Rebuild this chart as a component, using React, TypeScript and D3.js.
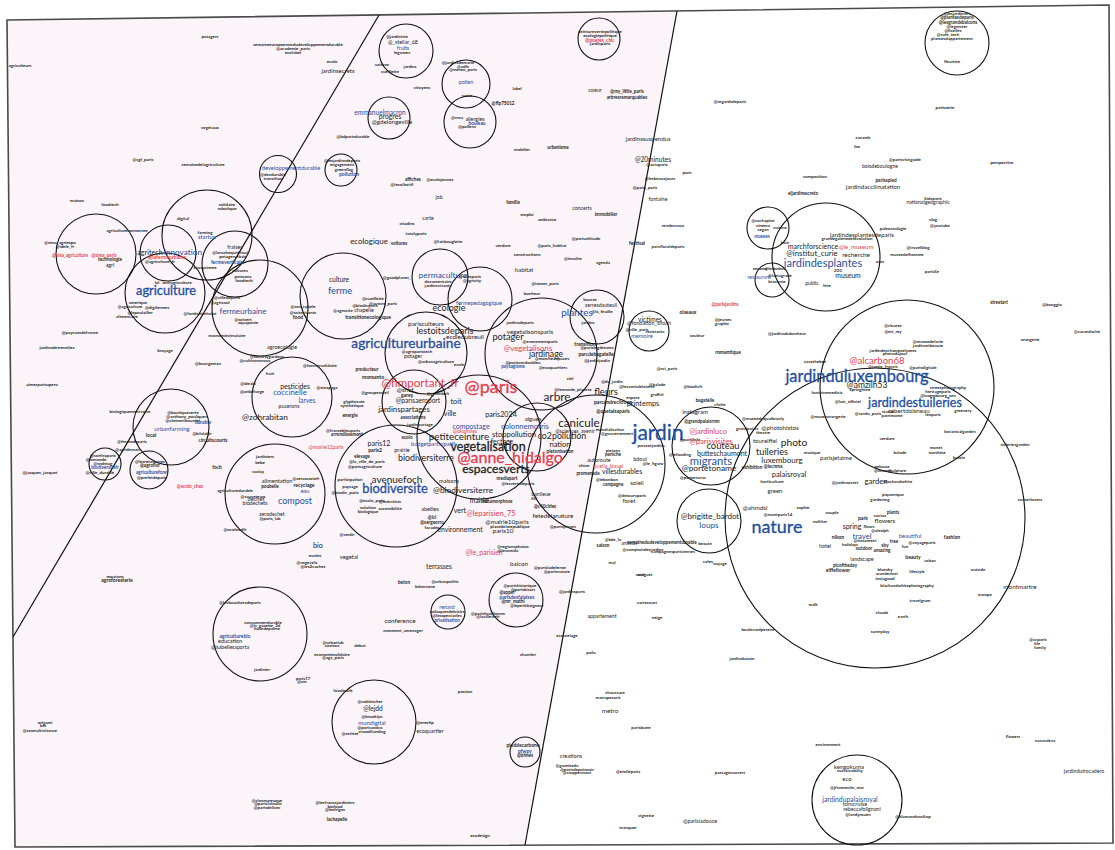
import React, { useEffect, useRef } from 'react';
import * as d3 from 'd3';

// map units: one unit = 10px of the page
type Label = [string, number, number, number, string];

const frameCorners: [number, number][] = [[0.7, 2.0], [110.9, 0.5], [111.3, 84.3], [1.5, 84.7]];

const dividers: [number, number, number, number][] = [
  [37.9, 1.5, 1.3, 63.7],
  [67.7, 1.1, 52.5, 84.5],
];

const circles: [number, number, number][] = [
  [27.8, 17.4, 1.85], [34.1, 17.0, 1.6], [20.7, 23.5, 4.5], [9.6, 25.4, 4.0], [16.8, 25.3, 2.8],
  [23.5, 26.4, 3.3], [16.5, 29.3, 4.0], [26.0, 30.8, 4.8], [34.3, 29.6, 4.3], [44.0, 27.7, 2.8],
  [48.0, 29.9, 3.2], [42.6, 35.3, 4.1], [41.4, 40.2, 3.2], [47.9, 43.7, 6.2], [54.1, 35.4, 5.6],
  [59.7, 31.7, 2.7], [64.9, 33.1, 2.0], [39.6, 48.6, 6.1], [53.7, 43.7, 3.4], [59.6, 46.4, 6.9],
  [71.1, 44.6, 3.9], [70.9, 52.1, 3.2], [87.5, 51.8, 15.0], [90.7, 38.7, 8.7], [82.6, 25.7, 5.4],
  [76.8, 22.8, 2.1], [77.2, 28.0, 1.7], [95.7, 4.3, 3.2], [85.7, 80.0, 4.5], [40.6, 5.1, 2.7],
  [46.6, 8.4, 2.4], [47.0, 12.2, 2.6], [38.9, 11.8, 2.1], [59.9, 3.9, 2.1], [17.1, 42.7, 3.8],
  [10.5, 46.4, 1.6], [14.9, 47.0, 1.9], [29.2, 39.7, 4.0], [27.5, 49.4, 5.0], [26.0, 63.4, 4.7],
  [37.4, 72.2, 4.2], [44.8, 61.2, 1.7], [51.6, 60.0, 2.7], [52.5, 75.2, 1.5],
];

// [word, x, y, weight, group]  group: k = term, b = hashtag, r = mention
const labelsWest: Label[] = [
  ['agriculteurs', 2.0, 6.6, 1.2, 'k'], ['potagers', 21.0, 3.7, 1.2, 'k'],
  ['semaineeuropeennedudeveloppementdurable', 29.8, 4.5, 1.2, 'k'], ['@academie_paris', 29.3, 4.9, 1.2, 'k'],
  ['ecolabel', 29.3, 5.3, 1.2, 'k'], ['ecolo', 33.2, 6.2, 1.2, 'k'], ['jardinsecrets', 33.8, 7.1, 2.0, 'k'],
  ['vegetaux', 21.0, 12.8, 1.2, 'k'], ['@sgf_paris', 14.3, 16.0, 1.2, 'k'],
  ['semainedelagriculture', 20.3, 16.5, 1.2, 'k'], ['@bdparisdurable', 35.3, 13.7, 1.2, 'k'],
  ['maison', 7.7, 20.1, 1.2, 'k'], ['foodtech', 11.0, 20.5, 1.2, 'k'],
  ['developpementdurable', 29.1, 16.9, 1.9, 'b'], ['@devdurable', 27.3, 17.5, 1.2, 'k'],
  ['transition', 27.3, 17.9, 1.2, 'k'], ['@lesjardinsdeparis', 34.2, 16.1, 1.2, 'k'],
  ['engagement', 34.2, 16.5, 1.2, 'k'], ['greenflag', 34.4, 17.0, 1.2, 'k'], ['pollution', 34.9, 17.5, 1.5, 'b'],
  ['@sima_agriexpo', 6.0, 24.3, 1.2, 'k'], ['@idele_fr', 6.5, 24.7, 1.2, 'k'],
  ['@visa_agriculture', 7.0, 25.6, 1.3, 'r'], ['@sima_paris', 10.4, 25.6, 1.3, 'r'],
  ['technologie', 11.0, 26.0, 1.3, 'k'], ['agri', 11.0, 26.6, 1.7, 'k'],
  ['agricultureconnectee', 12.7, 23.1, 1.2, 'k'], ['solidaire', 22.7, 20.5, 1.2, 'k'],
  ['robotique', 22.7, 20.9, 1.2, 'k'], ['digital', 18.3, 21.9, 1.2, 'k'], ['farming', 20.5, 23.3, 1.2, 'k'],
  ['startup', 20.7, 23.8, 1.9, 'b'], ['agritech', 15.0, 25.3, 2.6, 'k'], ['innovation', 18.3, 25.3, 3.1, 'b'],
  ['@lafermeurbaine', 16.7, 25.8, 1.5, 'r'], ['@agriculture_fr', 16.0, 26.2, 1.2, 'k'],
  ['fraises', 23.5, 24.8, 1.7, 'k'], ['@laruchequiditoui', 23.0, 25.3, 1.2, 'k'],
  ['potagerurbain', 23.3, 25.7, 1.2, 'k'], ['fermeverticale', 22.7, 26.3, 1.5, 'b'],
  ['ecosysteme', 20.5, 26.8, 1.2, 'k'], ['cultures', 24.0, 27.1, 1.2, 'k'], ['poissons', 24.3, 27.7, 1.2, 'k'],
  ['foodtech', 24.4, 28.1, 1.2, 'k'], ['lol', 15.7, 28.3, 1.2, 'k'], ['techagriculture', 17.7, 28.3, 1.2, 'k'],
  ['agriculture', 16.6, 29.2, 5.4, 'b'], ['amerique', 13.8, 30.3, 1.2, 'k'], ['@agriculture', 13.0, 30.7, 1.2, 'k'],
  ['@digifermes', 15.7, 30.8, 1.2, 'k'], ['@lepoulailler', 14.0, 31.3, 1.2, 'k'],
  ['alimentaire', 12.7, 31.7, 1.2, 'k'], ['@fondationhulot', 20.0, 31.4, 1.2, 'k'],
  ['@villedeparis', 22.7, 29.8, 1.2, 'k'], ['@agricool', 22.0, 30.3, 1.2, 'k'],
  ['fermeurbaine', 24.3, 31.2, 3.0, 'b'], ['@solvert', 24.3, 32.0, 1.2, 'k'], ['aquaponie', 24.8, 32.3, 1.2, 'k'],
  ['economiecirculaire', 22.7, 33.6, 1.2, 'k'], ['@paysansdefrance', 8.0, 33.3, 1.2, 'k'],
  ['jardinsdesrecoltes', 5.7, 34.8, 1.2, 'k'], ['broyage', 16.5, 35.1, 1.2, 'k'],
  ['agroecologie', 28.2, 34.8, 1.7, 'k'], ['ecologique', 36.9, 24.2, 2.95, 'k'], ['culture', 33.9, 28.0, 2.3, 'k'],
  ['ferme', 34.0, 29.2, 3.7, 'b'], ['@sea_cybele', 30.3, 30.7, 1.2, 'k'], ['@toitsvivants', 30.3, 31.3, 1.2, 'k'],
  ['food', 29.8, 31.8, 1.5, 'k'], ['@agrocite', 34.3, 31.1, 1.2, 'k'], ['chapelle', 36.4, 31.1, 1.7, 'k'],
  ['@cueillette', 37.3, 29.9, 1.2, 'k'], ['@biodivparis', 36.5, 30.6, 1.2, 'k'],
  ['transitionecologique', 36.8, 31.8, 1.5, 'k'], ['@aurore_paris', 38.3, 30.4, 1.2, 'k'],
  ['aimerparisapero', 4.2, 38.5, 1.2, 'k'], ['biologiquementvotre', 13.0, 41.2, 1.2, 'k'],
  ['@boutiqueverte', 18.3, 41.3, 1.2, 'k'], ['@anthony_pouliquen', 18.7, 41.7, 1.2, 'k'],
  ['@clementbourdet', 18.3, 42.1, 1.2, 'k'], ['durable', 20.3, 42.3, 1.4, 'b'],
  ['urbanfarming', 17.2, 42.9, 2.0, 'b'], ['@bilalabir', 20.2, 43.4, 1.2, 'k'], ['local', 15.1, 43.6, 1.5, 'k'],
  ['circuitscourts', 21.3, 44.1, 1.4, 'k'], ['@fermedeparis', 13.2, 44.2, 1.2, 'k'],
  ['@agridemain', 12.8, 45.0, 1.2, 'k'], ['@sortiraparis', 10.3, 45.6, 1.2, 'k'], ['@lemonde', 9.6, 46.0, 1.2, 'k'],
  ['@sndmag', 10.3, 46.4, 1.2, 'k'], ['biodiversitefr', 10.5, 46.8, 1.3, 'b'], ['@ville_durable', 10.0, 47.3, 1.2, 'k'],
  ['@lesrencontres', 15.0, 46.2, 1.2, 'k'], ['@agroflor', 15.0, 46.6, 1.3, 'k'],
  ['agricultureforet', 15.2, 47.3, 1.3, 'b'], ['@prefetdeparis', 15.2, 47.8, 1.2, 'k'], ['foch', 21.7, 46.8, 1.4, 'k'],
  ['@ecolo_chez', 19.0, 48.7, 1.3, 'r'], ['@jacques_jacquet', 4.0, 47.3, 1.2, 'k'],
  ['@zohrabitan', 26.5, 41.8, 3.2, 'k'], ['pesticides', 29.5, 38.7, 2.4, 'k'], ['coccinelle', 29.0, 39.3, 2.9, 'b'],
  ['larves', 30.7, 40.1, 2.3, 'b'], ['pucerons', 28.9, 40.7, 1.6, 'k'], ['@unbcharge', 25.2, 39.2, 1.2, 'k'],
  ['@idealo', 24.8, 38.4, 1.2, 'k'], ['fruit', 27.0, 37.4, 1.2, 'k'], ['@sunwaygardens', 26.7, 35.7, 1.2, 'k'],
  ['@cultivonsnous', 25.5, 36.1, 1.2, 'k'], ['@fonciersolidaire', 32.0, 36.6, 1.2, 'k'],
  ['@bourgeman', 20.8, 36.4, 1.2, 'k'], ['@steapaga', 32.7, 38.8, 1.2, 'k'], ['@mairie12paris', 32.6, 44.8, 1.6, 'r'],
  ['jardiniers', 26.5, 45.7, 1.2, 'k'], ['bebe', 26.0, 46.3, 1.2, 'k'], ['vaclay', 25.8, 47.2, 1.2, 'k'],
  ['alimentation', 27.7, 48.2, 1.8, 'k'], ['@zerowastefr', 30.6, 47.9, 1.2, 'k'], ['recyclage', 30.4, 48.6, 1.5, 'k'],
  ['poubelle', 27.0, 48.7, 1.3, 'k'], ['agriculturedurable', 23.5, 49.1, 1.2, 'k'], ['eau', 30.5, 49.2, 1.75, 'b'],
  ['@sauveteurs', 25.3, 49.7, 1.2, 'k'], ['dechet', 25.6, 50.0, 1.8, 'k'], ['compost', 29.5, 50.2, 3.5, 'b'],
  ['biodechets', 25.5, 50.4, 1.6, 'k'], ['zerodechet', 27.2, 51.5, 1.6, 'k'], ['@paris_lab', 27.0, 51.9, 1.2, 'k'],
  ['@ecofoodfr', 23.5, 53.0, 1.2, 'k'], ['@verdir', 34.7, 53.5, 1.2, 'k'], ['@vegetalis', 30.7, 56.3, 1.2, 'k'],
  ['@les2vaches', 31.3, 56.7, 1.2, 'k'], ['ecoles', 31.5, 55.6, 1.2, 'k'],
  ['agroforesterie', 11.7, 58.1, 1.5, 'k'], ['moutons', 11.5, 57.7, 1.2, 'k'],
  ['@lesbouchersdeparis', 24.0, 60.3, 1.2, 'k'], ['consommerdurable', 26.3, 62.3, 1.2, 'k'],
  ['@la_gazette_2d', 26.5, 62.6, 1.2, 'k'], ['huiledepalme', 26.7, 62.9, 1.2, 'k'],
  ['agriculturebio', 23.5, 63.7, 1.5, 'b'], ['education', 23.0, 64.2, 1.75, 'k'],
  ['@isabellesaporta', 23.0, 64.8, 1.6, 'k'], ['jardinier', 26.2, 67.0, 1.2, 'k'], ['@urbanlab', 33.3, 64.3, 1.2, 'k'],
  ['cosmos', 33.2, 64.6, 1.2, 'k'], ['debut', 36.0, 64.6, 1.2, 'k'], ['economiesolidaire', 33.2, 65.5, 1.2, 'k'],
  ['@ags_paris', 33.3, 65.8, 1.2, 'k'], ['paris17', 30.3, 67.9, 1.2, 'k'], ['@cm', 30.2, 68.2, 1.2, 'k'],
  ['foodtruck', 34.3, 69.1, 1.2, 'k'], ['origami', 4.5, 72.3, 1.2, 'k'], ['bm', 4.3, 72.6, 1.2, 'k'],
  ['@sosmaltraitance', 4.0, 73.1, 1.2, 'k'], ['@closmaresque', 26.7, 80.1, 1.2, 'k'],
  ['@parisfaloulin', 26.8, 80.4, 1.2, 'k'], ['@parisdelices', 26.7, 80.8, 1.2, 'k'],
  ['@lesfrancsjardiniers', 33.5, 80.3, 1.2, 'k'], ['biofood', 33.5, 80.7, 1.2, 'k'], ['@lesfrigos', 33.5, 81.0, 1.2, 'k'],
  ['lachapelle', 33.7, 82.0, 1.3, 'k'],
];

const labelsCentre: Label[] = [
  ['@jardiniste', 39.7, 3.7, 1.2, 'k'], ['@_stellar_68', 40.3, 4.3, 1.7, 'k'], ['fruits', 40.3, 4.9, 1.7, 'b'],
  ['legumes', 40.2, 5.3, 1.2, 'k'], ['saisons', 38.2, 6.5, 1.2, 'k'], ['jardins', 41.0, 6.7, 1.2, 'k'],
  ['cueillette', 39.0, 7.2, 1.2, 'k'], ['citoyens', 42.2, 8.8, 1.2, 'k'], ['@jardinsdemarie', 45.8, 6.3, 1.2, 'k'],
  ['@adfc', 46.3, 6.7, 1.2, 'k'], ['@meteo_paris', 46.3, 7.0, 1.2, 'k'], ['pollen', 46.6, 8.3, 1.7, 'b'],
  ['sante', 46.7, 9.6, 1.2, 'k'], ['@rnsa', 45.7, 11.8, 1.2, 'k'], ['allergies', 47.5, 12.0, 1.7, 'k'],
  ['@pollens', 46.7, 12.7, 1.2, 'k'], ['bouleau', 47.7, 12.4, 1.4, 'b'], ['label', 51.7, 8.9, 1.2, 'k'],
  ['@ffp75012', 50.3, 10.4, 1.3, 'k'], ['emmanuelmacron', 38.0, 11.3, 2.3, 'b'], ['progres', 39.0, 11.7, 2.4, 'k'],
  ['@gdelongeville', 39.2, 12.2, 2.1, 'k'], ['ceinturevertepolitique', 60.0, 3.2, 1.2, 'k'],
  ['ecologiepolitique', 60.0, 3.6, 1.2, 'k'], ['@poetes_chic', 60.0, 4.1, 1.4, 'r'], ['jardinparis', 60.0, 4.4, 1.2, 'k'],
  ['coeur', 59.5, 9.1, 1.7, 'k'], ['@my_little_paris', 62.7, 9.2, 1.3, 'k'], ['arbresremarquables', 62.7, 9.8, 1.3, 'k'],
  ['urbanisme', 55.8, 14.8, 1.3, 'k'], ['mobilier', 52.2, 15.0, 1.2, 'k'], ['jardinssuspendus', 64.8, 13.9, 2.0, 'k'],
  ['@20minutes', 65.3, 16.0, 2.3, 'k'], ['@actuparis', 65.7, 16.5, 1.2, 'k'], ['@lesbeauxjours', 66.0, 17.9, 1.2, 'k'],
  ['@paris_paris', 64.5, 18.8, 1.2, 'k'], ['fontaine', 65.8, 20.0, 1.6, 'k'], ['pont', 68.7, 17.3, 1.2, 'k'],
  ['rendezvous', 67.3, 22.6, 1.2, 'k'], ['festival', 63.7, 24.4, 1.5, 'k'], ['parcfloraldeparis', 66.8, 24.7, 1.2, 'k'],
  ['affiches', 41.3, 18.0, 1.3, 'k'], ['@ecolojeunes', 44.0, 18.0, 1.2, 'k'], ['@lecollectif', 40.2, 18.5, 1.2, 'k'],
  ['job', 43.9, 19.8, 1.6, 'k'], ['famille', 51.3, 20.3, 1.3, 'k'], ['emploi', 52.7, 21.5, 1.2, 'k'],
  ['concerts', 58.2, 20.9, 1.6, 'k'], ['immobilier', 60.6, 21.5, 1.4, 'k'], ['carte', 42.8, 21.9, 1.6, 'k'],
  ['citadins', 40.7, 22.4, 1.2, 'k'], ['ambiance', 54.7, 22.0, 1.2, 'k'], ['totalyparis', 41.6, 23.4, 1.2, 'k'],
  ['@fairbougloire', 44.8, 24.2, 1.2, 'k'], ['voitures', 39.9, 24.4, 1.3, 'k'], ['verdure', 50.3, 24.6, 1.2, 'k'],
  ['@paris_habitat', 55.2, 24.6, 1.2, 'k'], ['@parisattitude', 58.6, 23.9, 1.2, 'k'],
  ['constructions', 52.7, 25.5, 1.2, 'k'], ['@insolite', 57.3, 25.9, 1.2, 'k'], ['agenda', 60.3, 26.3, 1.2, 'k'],
  ['habitat', 52.4, 27.0, 2.0, 'k'], ['@tomes_paris', 54.5, 28.4, 1.2, 'k'], ['@goodplanet_', 39.7, 27.8, 1.2, 'k'],
  ['permaculture', 44.3, 27.6, 3.2, 'b'], ['documentaire', 43.8, 28.2, 1.2, 'k'], ['jardinsvivants', 43.8, 28.6, 1.2, 'k'],
  ['@toitsparis', 47.0, 27.7, 1.2, 'k'], ['@agricity', 47.2, 28.1, 1.2, 'k'],
  ['fermepedagogique', 47.9, 30.4, 1.8, 'b'], ['ecologie', 44.9, 30.9, 3.5, 'k'], ['bonheur', 53.2, 29.4, 1.2, 'k'],
  ['parisculteurs', 42.6, 32.4, 2.2, 'k'], ['lestoitsdeparis', 44.5, 33.2, 3.5, 'k'],
  ['ecoledubreuil', 46.5, 33.7, 2.2, 'k'], ['potager', 50.8, 33.8, 3.6, 'k'], ['vegetalisonsparis', 53.0, 33.2, 2.1, 'k'],
  ['jardinsdeparis', 52.0, 32.3, 1.2, 'k'], ['agricultureurbaine', 40.6, 34.5, 5.85, 'b'],
  ['@vegetalisons', 52.8, 34.9, 2.9, 'r'], ['jardinage', 54.6, 35.5, 3.3, 'k'], ['@agroparistech', 41.7, 35.2, 1.2, 'k'],
  ['potager', 41.3, 35.7, 1.7, 'k'], ['@urbanagriculture', 43.6, 36.2, 1.2, 'k'], ['ecole', 45.9, 36.5, 1.2, 'k'],
  ['@evenementparis', 54.0, 34.2, 1.2, 'k'], ['@pariscordonbleu', 52.3, 36.3, 1.2, 'k'],
  ['paysagisme', 51.3, 36.7, 1.3, 'b'], ['@marcheaupuces', 55.2, 35.9, 1.2, 'k'], ['@ecoquartiers', 55.3, 36.8, 1.2, 'k'],
  ['bourse', 59.0, 30.0, 1.2, 'k'], ['serresdauteuil', 60.1, 30.6, 1.6, 'k'], ['@la_feuille', 60.2, 31.2, 1.2, 'k'],
  ['plantes', 57.7, 31.3, 4.0, 'b'], ['jardins', 58.8, 32.3, 1.2, 'k'], ['transition', 58.5, 34.5, 1.5, 'k'],
  ['@parisbigdreams', 59.7, 34.8, 1.2, 'k'], ['parcdebagatelle', 59.6, 35.5, 1.5, 'k'],
  ['@jardinjardin', 59.7, 36.1, 1.2, 'k'], ['ciel', 57.0, 37.9, 1.2, 'k'], ['@lemonde_planete', 57.3, 39.0, 1.2, 'k'],
  ['victimes', 65.0, 32.0, 2.3, 'k'], ['@fondation_shoah', 64.9, 32.4, 1.7, 'k'], ['@ville_paris', 63.7, 33.0, 1.2, 'k'],
  ['resistants', 65.5, 33.2, 1.2, 'k'], ['memoire', 64.2, 33.7, 1.8, 'b'], ['monsanto', 37.3, 37.8, 1.5, 'k'],
  ['producteur', 36.7, 37.0, 1.3, 'k'], ['@groupesoleil', 37.5, 39.3, 1.2, 'k'], ['energie', 35.0, 41.6, 1.3, 'k'],
  ['glyphosate', 35.4, 40.2, 1.2, 'k'], ['synthetique', 35.2, 40.6, 1.2, 'k'],
  ['@fimportant_fr', 42.0, 38.4, 4.8, 'r'], ['@paris', 49.1, 38.8, 8.0, 'r'], ['@sncf', 40.5, 39.0, 2.2, 'k'],
  ['@greenbelt', 43.8, 39.4, 1.2, 'k'], ['gares', 40.7, 39.6, 1.5, 'k'], ['@parisaeroport', 41.8, 40.1, 2.3, 'k'],
  ['toit', 45.6, 40.2, 2.7, 'k'], ['jardinspartages', 40.4, 41.0, 2.9, 'k'], ['ville', 45.0, 41.4, 2.5, 'k'],
  ['associations', 41.3, 41.8, 1.3, 'k'], ['jardinpartage', 42.0, 42.5, 1.2, 'k'], ['arbre', 55.7, 39.8, 4.9, 'k'],
  ['fleurs', 60.6, 39.3, 3.8, 'k'], ['paris2024', 50.1, 41.5, 2.6, 'k'], ['algues', 53.3, 41.9, 2.0, 'k'],
  ['colonnemorris', 52.5, 42.7, 2.8, 'b'], ['compostage', 47.1, 42.7, 2.5, 'b'], ['canicule', 57.9, 42.4, 4.8, 'k'],
  ['@sciences_avenir', 57.5, 43.2, 1.6, 'k'], ['@okomiles', 46.5, 43.2, 1.6, 'r'],
  ['petiteceinture', 45.9, 43.8, 3.9, 'k'], ['stoppollution', 51.4, 43.5, 2.8, 'k'], ['co2pollution', 56.2, 43.7, 3.4, 'k'],
  ['fectage', 50.2, 44.2, 2.5, 'k'], ['vegetalisation', 48.8, 44.8, 5.2, 'k'], ['nation', 56.0, 44.5, 2.8, 'k'],
  ['pietonisation', 56.0, 45.2, 1.3, 'k'], ['budgetparticipatif', 43.3, 44.5, 1.8, 'b'],
  ['@anne_hidalgo', 51.0, 45.9, 7.0, 'r'], ['espacesverts', 49.6, 47.0, 5.0, 'k'], ['paris12', 37.9, 44.4, 2.5, 'k'],
  ['arrondissement', 34.7, 43.5, 1.3, 'k'], ['@francebleuparis', 34.3, 43.1, 1.2, 'k'], ['ecolo', 40.7, 43.8, 1.3, 'k'],
  ['prairie', 40.2, 45.1, 1.8, 'k'], ['paris2', 37.5, 45.1, 1.5, 'k'], ['biodiversiterre', 42.6, 45.9, 3.4, 'k'],
  ['elevage', 36.2, 45.7, 1.3, 'k'], ['@la_ville_de_paris', 36.7, 46.2, 1.2, 'k'],
  ['@parisagriculture', 36.5, 46.7, 1.2, 'k'], ['mediapart', 50.7, 47.9, 1.3, 'k'], ['avenuefoch', 39.7, 48.0, 4.0, 'k'],
  ['maisons', 44.9, 48.2, 1.8, 'k'], ['participation', 35.0, 48.0, 1.2, 'k'], ['paysage', 35.0, 48.7, 1.2, 'k'],
  ['@ecolo_paris', 37.2, 50.1, 1.2, 'k'], ['@scientists', 39.0, 50.2, 1.2, 'k'], ['@biodiv_paris', 34.5, 49.3, 1.2, 'k'],
  ['biodiversite', 39.5, 49.0, 5.4, 'b'], ['@biodiversiterre', 46.3, 49.1, 3.2, 'k'],
  ['@lesvertsdeparis', 51.8, 48.4, 1.2, 'k'], ['mairie', 47.9, 50.1, 2.4, 'k'], ['metamorphose', 49.7, 50.2, 1.3, 'k'],
  ['banlieue', 54.1, 49.5, 1.6, 'k'], ['air', 53.4, 49.8, 2.0, 'k'], ['@c40cities', 54.5, 50.7, 1.3, 'k'],
  ['solution', 36.8, 50.8, 1.2, 'k'], ['biologique', 36.8, 51.2, 1.2, 'k'], ['accessibilite', 39.0, 50.9, 1.2, 'k'],
  ['vert', 46.0, 51.1, 2.5, 'k'], ['@leparisien_75', 49.1, 51.4, 2.7, 'r'], ['abeilles', 43.0, 51.0, 1.7, 'k'],
  ['fetedelanature', 55.3, 51.6, 2.2, 'k'], ['@lci', 43.2, 51.8, 1.3, 'k'], ['@sergeorru', 43.2, 52.3, 1.3, 'k'],
  ['facades', 43.2, 52.8, 1.2, 'k'], ['@mairie10paris', 50.7, 52.2, 2.2, 'k'],
  ['placedelarepublique', 51.0, 52.7, 1.2, 'k'], ['@parisjeunes', 56.3, 52.7, 1.2, 'k'],
  ['environnement', 46.0, 53.0, 2.4, 'k'], ['paris10', 50.3, 53.1, 2.2, 'k'], ['@le_parisien', 48.4, 55.3, 2.4, 'r'],
  ['@regionsphotos', 51.3, 54.7, 1.2, 'k'], ['@lecomdu', 50.8, 55.1, 1.2, 'k'], ['balcon', 51.9, 56.4, 2.1, 'k'],
  ['terrasses', 43.9, 56.7, 2.3, 'k'], ['beton', 40.4, 58.3, 1.3, 'k'], ['bitterzone', 42.5, 58.7, 1.2, 'k'],
  ['@urbanpolitic', 44.5, 58.2, 1.2, 'k'], ['vegetal', 34.9, 55.8, 1.9, 'k'], ['bio', 31.8, 54.6, 2.7, 'k'],
  ['@nobletcher', 37.0, 70.2, 1.2, 'k'], ['@lejdd', 37.3, 70.9, 2.3, 'k'], ['@brooklyn', 37.2, 71.7, 1.2, 'k'],
  ['mundigital', 37.2, 72.3, 2.0, 'b'], ['@parisandco', 37.0, 72.8, 1.2, 'k'], ['crowdfunding', 37.2, 73.2, 1.2, 'k'],
  ['@zetiste', 35.0, 73.4, 1.2, 'k'], ['@enerfip', 42.5, 72.3, 1.2, 'k'], ['ecoquartier', 43.0, 73.2, 1.7, 'k'],
  ['passion', 46.5, 69.2, 1.2, 'k'], ['conference', 40.0, 62.1, 2.2, 'k'], ['comment_amenager', 40.3, 63.1, 1.2, 'k'],
  ['renard', 44.7, 60.8, 1.7, 'b'], ['colloquesdeloisirs', 44.7, 61.2, 1.2, 'k'], ['@lesspectacles', 44.7, 61.6, 1.2, 'k'],
  ['privatisation', 44.7, 62.1, 1.3, 'b'], ['@parishistorique', 52.0, 58.6, 1.2, 'k'], ['@parisbisart', 52.3, 59.0, 1.2, 'k'],
  ['@sppef', 50.7, 59.3, 1.3, 'k'], ['parisdesfalaises', 51.7, 59.8, 1.5, 'b'], ['@mr_mathi', 51.3, 60.2, 1.3, 'k'],
  ['@lepetitbaigneur', 52.7, 60.6, 1.2, 'k'], ['@parisnature', 55.7, 57.2, 1.2, 'k'], ['@jardinsparis', 57.2, 59.2, 1.2, 'k'],
  ['@parisfoodforum', 48.8, 61.4, 1.2, 'k'], ['@lavillettefr', 48.8, 61.7, 1.2, 'k'], ['ecoutelage', 56.7, 63.6, 1.2, 'k'],
  ['chantier', 52.8, 65.5, 1.2, 'k'], ['pieddecarbone', 52.3, 74.6, 1.5, 'k'], ['pfwpy', 52.5, 75.2, 1.5, 'b'],
  ['@bhnes', 52.5, 75.6, 1.3, 'k'], ['ecodesign', 48.0, 83.6, 1.2, 'k'],
];

const labelsEast: Label[] = [
  ['@du_jardin', 61.2, 38.2, 1.2, 'k'], ['espace', 63.3, 39.8, 1.2, 'k'], ['parcandrecitroen', 61.3, 40.3, 1.5, 'k'],
  ['printemps', 64.3, 40.4, 2.7, 'k'], ['@quetalsaparis', 61.3, 41.2, 1.5, 'k'], ['@lesamisdelaterre', 63.7, 38.7, 1.2, 'k'],
  ['@cci_paris', 66.7, 36.9, 1.2, 'k'], ['@biodivfr', 69.3, 38.7, 1.2, 'k'], ['jardin', 65.8, 43.5, 9.5, 'b'],
  ['mondialisation', 61.0, 43.0, 1.2, 'k'], ['@gouvernement', 61.7, 43.4, 1.2, 'k'], ['parcsetjardins', 65.1, 44.6, 1.2, 'k'],
  ['pietons', 61.3, 45.1, 1.2, 'k'], ['peniche', 61.3, 45.5, 1.3, 'k'], ['autoroute', 59.9, 46.1, 1.7, 'k'],
  ['bdoul', 64.0, 46.0, 1.7, 'k'], ['@le_figaro', 65.3, 46.4, 1.2, 'k'], ['@celia_blauel', 60.8, 46.7, 1.6, 'r'],
  ['chine', 58.4, 46.6, 1.2, 'k'], ['villesdurables', 62.2, 47.2, 2.4, 'k'], ['promenade', 58.8, 47.4, 1.3, 'k'],
  ['@lebonbon', 60.7, 48.0, 1.2, 'k'], ['campagne', 61.3, 48.5, 1.3, 'k'], ['soleil', 63.7, 48.3, 2.0, 'k'],
  ['@detoursparis', 63.2, 49.6, 1.2, 'k'], ['foret', 62.9, 50.1, 2.0, 'k'], ['@bde_lu', 61.3, 54.0, 1.2, 'k'],
  ['saison', 60.3, 54.6, 1.3, 'k'], ['animal', 62.9, 54.4, 1.7, 'k'], ['semainedudeveloppementdurable', 66.2, 54.3, 1.3, 'k'],
  ['@comptoirdesjardins', 64.3, 55.0, 1.2, 'k'], ['campagnesparisiennes', 67.3, 55.2, 1.2, 'k'],
  ['mal', 61.2, 56.3, 1.2, 'k'], ['cafes', 70.8, 56.2, 1.2, 'k'], ['voyage', 72.0, 56.4, 1.2, 'k'],
  ['muguet', 64.5, 57.5, 1.2, 'k'], ['@parisladefense', 55.0, 56.8, 1.2, 'k'], ['@balade', 65.7, 38.5, 1.2, 'k'],
  ['graffiti', 65.7, 39.5, 1.2, 'k'], ['bagatelle', 70.5, 40.1, 1.3, 'k'], ['cliche', 72.0, 40.5, 1.2, 'k'],
  ['instagram', 69.5, 41.2, 2.0, 'k'], ['@grandpalaisrmn', 70.2, 42.2, 1.3, 'k'], ['@parisinfo', 69.0, 44.0, 1.2, 'k'],
  ['@jardinluco', 70.8, 43.2, 2.7, 'r'], ['@parisvisites', 71.1, 44.2, 2.85, 'r'], ['couteau', 72.3, 44.7, 3.7, 'k'],
  ['@lefooding', 68.0, 45.5, 1.2, 'k'], ['butteschaumont', 72.2, 45.4, 2.5, 'k'], ['migrants', 71.1, 46.2, 4.6, 'b'],
  ['@portetoname', 70.9, 46.9, 3.2, 'k'], ['@parisenvrac', 69.3, 47.8, 1.2, 'k'],
  ['@brigitte_bardot', 71.0, 51.7, 3.0, 'k'], ['loups', 70.9, 52.6, 3.1, 'b'], ['beaute', 70.5, 54.4, 1.2, 'k'],
  ['@photohistos', 78.0, 42.8, 2.1, 'k'], ['@museeduquaibranly', 76.3, 41.9, 1.2, 'k'], ['grandpalais', 74.7, 42.9, 1.2, 'k'],
  ['theatre', 76.3, 43.3, 1.2, 'k'], ['toureiffel', 76.5, 44.1, 2.0, 'k'], ['photo', 79.4, 44.3, 4.1, 'k'],
  ['tuileries', 77.2, 45.3, 3.6, 'k'], ['luxembourg', 78.2, 46.1, 3.0, 'k'], ['exhibition', 75.2, 46.8, 1.3, 'k'],
  ['@lecnma', 77.3, 46.7, 1.3, 'k'], ['palaisroyal', 78.9, 47.5, 2.75, 'k'], ['horticulture', 77.2, 48.2, 1.2, 'k'],
  ['green', 77.5, 49.1, 2.0, 'k'], ['@ahmdsl', 75.5, 50.8, 2.2, 'k'], ['@montparis14', 77.8, 51.5, 1.2, 'k'],
  ['nature', 77.7, 52.8, 8.0, 'b'], ['romantique', 72.8, 35.3, 1.5, 'k'], ['oiseaux', 68.8, 31.3, 1.5, 'k'],
  ['couleur', 69.7, 33.6, 1.2, 'k'], ['@parisjardins', 72.5, 30.5, 1.3, 'r'], ['@jeunes', 72.3, 32.0, 1.2, 'k'],
  ['graphic', 72.2, 32.4, 1.2, 'k'], ['@jardinsdubonheur', 78.7, 33.4, 1.2, 'k'], ['savethebee', 81.5, 36.2, 1.2, 'k'],
  ['@museeorangerie', 82.8, 41.7, 1.2, 'k'], ['parisjetaime', 83.6, 45.8, 2.0, 'k'], ['musique', 81.2, 45.3, 1.2, 'k'],
  ['@jardinsecret', 84.5, 48.3, 1.2, 'k'], ['garden', 87.6, 48.2, 2.8, 'k'], ['blackandwhite', 89.8, 48.2, 1.2, 'k'],
  ['piquenique', 89.3, 49.5, 1.2, 'k'], ['gardening', 88.0, 50.0, 1.2, 'k'], ['sophie', 80.3, 50.8, 1.2, 'k'],
  ['couple', 83.2, 51.3, 1.2, 'k'], ['plants', 89.3, 51.3, 1.3, 'k'], ['cactus', 88.0, 51.6, 1.2, 'k'],
  ['park', 86.3, 51.9, 1.5, 'k'], ['flowers', 88.5, 52.1, 2.2, 'k'], ['nofilter', 82.0, 52.2, 1.2, 'k'],
  ['spring', 85.2, 52.7, 2.5, 'k'], ['fleurs', 86.9, 52.7, 1.2, 'k'], ['@alexlph', 88.0, 53.1, 1.2, 'k'],
  ['travel', 86.2, 53.7, 2.9, 'b'], ['nikon', 83.8, 53.8, 1.5, 'k'], ['beautiful', 91.0, 53.7, 1.9, 'b'],
  ['tree', 89.4, 54.2, 1.3, 'k'], ['@instameet', 86.5, 54.1, 1.2, 'k'], ['holidays', 85.0, 54.5, 1.2, 'k'],
  ['hotel', 82.5, 54.7, 1.7, 'k'], ['sky', 88.5, 54.6, 1.5, 'k'], ['fun', 90.5, 54.7, 1.2, 'k'],
  ['fashion', 95.2, 53.8, 1.5, 'k'], ['@voyageparis', 92.2, 54.3, 1.2, 'k'], ['outdoor', 86.4, 54.9, 1.3, 'k'],
  ['amazing', 88.2, 55.1, 1.3, 'k'], ['beauty', 91.3, 55.8, 1.5, 'k'], ['urban', 93.0, 56.1, 1.2, 'k'],
  ['landscape', 86.2, 56.0, 1.7, 'k'], ['picoftheday', 84.5, 56.6, 1.3, 'k'], ['eiffeltower', 83.8, 57.1, 1.5, 'k'],
  ['bluesky', 88.5, 57.0, 1.2, 'k'], ['wanderlust', 88.7, 57.4, 1.2, 'k'], ['instagood', 88.5, 57.9, 1.2, 'k'],
  ['lifestyle', 91.7, 57.2, 1.2, 'k'], ['outside', 97.8, 57.0, 1.2, 'k'], ['blackandwhitephotography', 90.7, 58.6, 1.2, 'k'],
  ['europe', 98.5, 59.5, 1.2, 'k'], ['travelgram', 92.0, 60.1, 1.2, 'k'], ['walk', 81.3, 60.5, 1.2, 'k'],
  ['clouds', 88.2, 61.3, 1.2, 'k'], ['earth', 90.3, 61.7, 1.2, 'k'], ['sunnyday', 88.0, 63.2, 1.2, 'k'],
  ['boulevardpereire', 75.8, 63.0, 1.2, 'k'], ['montmartre', 102.0, 58.7, 2.2, 'k'], ['tuileriesgarden', 101.5, 44.5, 1.2, 'k'],
  ['streetart', 99.9, 30.3, 1.3, 'k'], ['@booggio', 105.2, 30.5, 1.2, 'k'], ['@carandache', 108.7, 33.2, 1.2, 'k'],
  ['orangerie', 103.0, 34.0, 1.2, 'k'], ['sunsetlovers', 103.0, 50.0, 1.2, 'k'], ['@ccparis', 103.8, 64.0, 1.2, 'k'],
  ['life', 103.7, 64.4, 1.2, 'k'], ['family', 104.0, 64.8, 1.2, 'k'],
  ['@cloarec', 89.3, 32.6, 1.2, 'k'], ['@mt_rey', 89.3, 33.2, 1.2, 'k'], ['@museedelavie', 92.8, 34.2, 1.2, 'k'],
  ['jardinsetbeaute', 92.8, 34.6, 1.2, 'k'], ['jardindeschampselysees', 89.3, 35.1, 1.2, 'k'], ['photodujour', 89.5, 35.4, 1.2, 'k'],
  ['@alcarbon68', 87.7, 36.2, 3.8, 'r'], ['@jamie_francis', 88.3, 36.7, 1.2, 'k'], ['@parisdigitale', 92.3, 36.8, 1.2, 'k'],
  ['jardinduluxembourg', 85.7, 37.8, 7.2, 'b'], ['@amzilh53', 86.7, 38.6, 3.25, 'k'], ['streetphotography', 94.8, 38.8, 1.2, 'k'],
  ['heritageparis', 93.8, 39.2, 1.2, 'k'], ['@luxembourg_sen', 93.8, 39.6, 1.2, 'k'], ['fontainemedicis', 82.7, 39.3, 1.2, 'k'],
  ['springtime', 86.0, 39.0, 1.2, 'k'], ['jardindestuileries', 91.5, 40.4, 5.3, 'b'], ['robertdoisneau', 90.9, 41.1, 2.1, 'k'],
  ['@loic_officiel', 84.8, 40.2, 1.2, 'k'], ['statue', 88.8, 41.2, 1.2, 'k'], ['patrimoine', 89.2, 41.6, 1.2, 'k'],
  ['leoparis', 93.3, 41.5, 1.2, 'k'], ['greenery', 96.3, 41.1, 1.2, 'k'], ['@rando_paris', 86.8, 41.4, 1.2, 'k'],
  ['botanicalgarden', 96.0, 43.2, 1.2, 'k'], ['verdure', 88.7, 43.9, 1.2, 'k'], ['balade', 90.0, 45.3, 1.2, 'k'],
  ['monet', 93.6, 44.8, 1.2, 'k'], ['sunshine', 93.7, 45.3, 1.2, 'k'], ['bassin', 95.9, 45.8, 1.2, 'k'],
  ['pelouse', 88.2, 46.7, 1.2, 'k'], ['@imsmth', 88.3, 47.1, 1.2, 'k'], ['sculpture', 89.7, 47.1, 1.2, 'k'],
  ['@zachapine', 76.3, 22.1, 1.2, 'k'], ['cinema', 76.3, 22.6, 1.2, 'k'], ['vegan', 76.3, 23.0, 1.2, 'k'],
  ['cuisine', 78.0, 22.8, 1.2, 'k'], ['musees', 76.2, 23.7, 1.3, 'b'], ['bain', 78.5, 24.3, 1.2, 'k'],
  ['grandegaleriedelevolution', 84.7, 23.9, 1.2, 'k'], ['jardindesplantesdeparis', 86.2, 23.5, 2.1, 'k'],
  ['paleontologie', 89.3, 22.9, 1.2, 'k'], ['marchforscience', 81.3, 24.7, 2.5, 'k'], ['@le_museum', 85.6, 24.7, 2.0, 'r'],
  ['@institut_curie', 81.2, 25.4, 2.9, 'k'], ['recherche', 85.6, 25.5, 2.2, 'k'], ['ours', 88.0, 26.2, 1.2, 'k'],
  ['jardindesplantes', 82.3, 26.4, 4.5, 'b'], ['zoo', 83.8, 27.1, 1.6, 'k'], ['museum', 84.8, 27.6, 2.4, 'k'],
  ['public', 81.2, 28.4, 1.6, 'k'], ['fete', 82.7, 28.6, 1.2, 'k'], ['sesame', 76.0, 26.9, 1.2, 'k'],
  ['@lesbobos', 77.5, 26.9, 1.2, 'k'], ['@lamagrade', 78.0, 27.6, 1.2, 'k'], ['restaurant', 75.9, 27.8, 1.6, 'b'],
  ['brocante', 77.7, 28.2, 1.2, 'k'], ['@travelblog', 91.8, 24.8, 1.2, 'k'], ['museedelhomme', 90.7, 25.5, 1.2, 'k'],
  ['paris5e', 93.2, 27.2, 1.2, 'k'], ['vlog', 93.3, 22.0, 1.2, 'k'], ['@youtube', 94.0, 22.6, 1.2, 'k'],
  ['kidsparis', 93.3, 19.9, 1.2, 'k'], ['nationalgeographic', 92.8, 20.3, 1.6, 'k'], ['eljardinsecreto', 80.3, 19.4, 1.3, 'k'],
  ['composition', 81.5, 17.7, 1.2, 'k'], ['parisapied', 88.6, 18.1, 1.3, 'k'], ['jardindacclimatation', 87.3, 18.7, 2.1, 'k'],
  ['boisdeboulogne', 88.0, 16.7, 1.6, 'k'], ['@parisvisitguide', 90.5, 16.0, 1.2, 'k'], ['perspective', 100.2, 16.3, 1.2, 'k'],
  ['canards', 86.3, 13.8, 1.2, 'k'], ['fox', 85.7, 14.7, 1.2, 'k'], ['patisserie', 94.5, 10.8, 1.2, 'k'],
  ['@regardsdeparis', 73.0, 10.2, 1.2, 'k'],
  ['@lesjardiniers', 95.7, 1.4, 1.2, 'k'], ['@plantesdeparis', 95.7, 1.8, 1.3, 'k'], ['@lesgrandsbalcons', 95.8, 2.3, 1.3, 'k'],
  ['@legrenier', 95.7, 2.7, 1.2, 'k'], ['@ficelles', 95.3, 3.1, 1.2, 'k'], ['@safe_tech', 94.8, 3.5, 1.2, 'k'],
  ['plantesdappartement', 95.2, 3.9, 1.2, 'k'], ['fleuriste', 95.2, 6.2, 1.2, 'k'],
  ['conf', 64.0, 57.5, 1.2, 'k'], ['carrecourt', 64.7, 60.3, 1.2, 'k'], ['appartement', 60.2, 61.7, 1.6, 'k'],
  ['neige', 65.7, 61.8, 1.2, 'k'], ['poilu', 59.1, 65.3, 1.2, 'k'], ['chaussure', 61.5, 69.3, 1.2, 'k'],
  ['matrapesaris', 60.8, 69.8, 1.2, 'k'], ['metro', 61.0, 71.1, 2.2, 'k'], ['parisboire', 64.1, 72.8, 1.2, 'k'],
  ['creations', 57.1, 75.7, 1.8, 'k'], ['@gazettedu', 56.7, 76.6, 1.2, 'k'], ['@parisdepuisnoir', 57.7, 77.0, 1.2, 'k'],
  ['@stoppennaut', 57.7, 77.3, 1.2, 'k'], ['@etoileparis', 62.8, 77.2, 1.2, 'k'], ['vignette', 64.6, 81.6, 1.2, 'k'],
  ['manquer', 62.8, 82.8, 1.2, 'k'], ['@parisladouce', 70.0, 82.2, 1.7, 'k'], ['passagecouvert', 73.0, 77.3, 1.2, 'k'],
  ['jardinsbassin', 74.2, 65.9, 1.2, 'k'], ['environment', 82.8, 74.5, 1.2, 'k'], ['kengokuma', 84.9, 76.7, 2.0, 'k'],
  ['sustainability', 85.0, 77.1, 1.2, 'k'], ['eco', 84.7, 77.9, 2.0, 'k'], ['@jfromentin_mw', 84.7, 78.8, 1.2, 'k'],
  ['jardindupalaisroyal', 85.0, 80.0, 2.4, 'b'], ['tomcruise', 85.5, 80.5, 1.8, 'k'], ['rebeccafolignoni', 86.2, 81.0, 1.6, 'k'],
  ['@landyrouen', 85.8, 81.5, 1.2, 'k'], ['@diamondrooftop', 91.3, 81.7, 1.2, 'k'], ['flowers', 101.3, 73.7, 1.2, 'k'],
  ['naturaleza', 104.5, 74.1, 1.2, 'k'], ['jardindutrocadero', 108.4, 77.2, 1.6, 'k'],
];

const groups = ['k', 'b', 'r'];
const groupColors = ['#1c1c1c', '#1f4f9e', '#e2404f'];

const App: React.FC = () => {
  const svgRef = useRef<SVGSVGElement | null>(null);

  useEffect(() => {
    if (!svgRef.current) return;
    document.body.style.margin = '0';

    const svg = d3.select(svgRef.current);
    svg.selectAll('*').remove();

    const x = d3.scaleLinear().domain([0, 111.5]).range([0, 1115]);
    const y = d3.scaleLinear().domain([0, 85]).range([0, 850]);
    const fontSize = d3.scaleLinear().domain([1, 10]).range([4, 22]);
    const color = d3.scaleOrdinal<string, string>().domain(groups).range(groupColors);

    const line = d3.line<[number, number]>()
      .x(d => x(d[0]))
      .y(d => y(d[1]));

    svg.append('rect').attr('width', 1115).attr('height', 850).attr('fill', '#ffffff');

    // shaded side of the right divider
    const right = dividers[1];
    const shade: [number, number][] = [
      frameCorners[0], [right[0], right[1]], [right[2], right[3]], frameCorners[3],
    ];
    svg.append('path')
      .attr('d', line(shade) + 'Z')
      .attr('fill', '#fbf4f9');

    svg.append('path')
      .attr('d', line(frameCorners) + 'Z')
      .attr('fill', 'none')
      .attr('stroke', '#4a4a4a')
      .attr('stroke-width', 1.6);

    svg.append('g')
      .selectAll('path')
      .data(dividers)
      .join('path')
      .attr('d', d => line([[d[0], d[1]], [d[2], d[3]]]))
      .attr('stroke', '#111')
      .attr('stroke-width', 1.2)
      .attr('fill', 'none');

    svg.append('g')
      .selectAll('circle')
      .data(circles)
      .join('circle')
      .attr('cx', d => x(d[0]))
      .attr('cy', d => y(d[1]))
      .attr('r', d => x(d[2]) - x(0))
      .attr('fill', 'none')
      .attr('stroke', '#111')
      .attr('stroke-width', 1.1);

    const labels = [...labelsWest, ...labelsCentre, ...labelsEast];

    svg.append('g')
      .attr('font-family', "Lato, 'Open Sans', sans-serif")
      .attr('text-anchor', 'middle')
      .selectAll('text')
      .data(labels)
      .join('text')
      .attr('x', d => x(d[1]))
      .attr('y', d => y(d[2]))
      .attr('dominant-baseline', 'middle')
      .attr('font-size', d => fontSize(d[3]))
      .attr('font-weight', d => (d[3] < 1.6 ? 700 : 400))
      .attr('fill', d => color(d[4]))
      .attr('stroke', d => (d[3] >= 5 ? color(d[4]) : 'none'))
      .attr('stroke-width', 0.3)
      .text(d => d[0]);
  }, []);

  return <svg ref={svgRef} width={1115} height={850} style={{ display: 'block' }} />;
};

export default App;
